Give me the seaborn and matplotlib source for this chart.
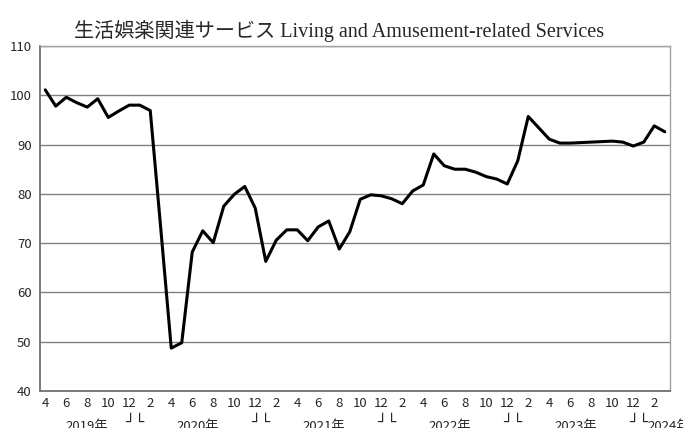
import numpy as np
import pandas as pd
import seaborn as sns
import matplotlib.pyplot as plt
import matplotlib.transforms as mtransforms

# monthly index, Apr 2019 - Mar 2024
months = [4, 5, 6, 7, 8, 9, 10, 11, 12] + list(range(1, 13)) * 4 + [1, 2, 3]
years = [2019] * 9 + [2020] * 12 + [2021] * 12 + [2022] * 12 + [2023] * 12 + [2024] * 3
values = [101.1, 97.8, 99.6, 98.5, 97.6, 99.3, 95.5, 96.8, 98.0,
          98.0, 96.9, 73.0, 48.7, 49.8, 68.2, 72.5, 70.1, 77.5, 79.9, 81.5, 77.1,
          66.3, 70.6, 72.7, 72.7, 70.5, 73.3, 74.5, 68.8, 72.3, 78.9, 79.8, 79.6,
          79.0, 78.0, 80.6, 81.8, 88.1, 85.7, 85.0, 85.0, 84.4, 83.5, 83.0, 82.0,
          86.7, 95.7, 93.4, 91.1, 90.3, 90.3, 90.4, 90.5, 90.6, 90.7, 90.5, 89.7,
          90.5, 93.8, 92.6]
year_labels = ['2019年', '2020年', '2021年', '2022年', '2023年', '2024年']

df = pd.DataFrame({'year': years, 'month': months, 'index': values})
df['t'] = np.arange(len(df))

sns.set_style("white")
plt.rcParams['font.family'] = ['Noto Sans CJK JP', 'DejaVu Sans']

fig = plt.figure(figsize=(6.83, 4.28), dpi=100)
ax = fig.add_axes([40 / 683, 1 - 391 / 428, 630 / 683, 345 / 428])

sns.lineplot(data=df, x='t', y='index', color='black', linewidth=2.2, ax=ax)

ax.set_xlim(-0.5, len(df) - 0.5)
ax.set_ylim(40, 110)
ax.set_yticks(range(40, 111, 10))
ax.set_xticks(df['t'][::2])
ax.set_xticklabels(df['month'][::2])
ax.set_xlabel('')
ax.set_ylabel('')
ax.tick_params(axis='y', labelsize=9.5, length=3, color='#808080', pad=3)
ax.tick_params(axis='x', labelsize=9.5, length=0, pad=4)
ax.grid(axis='y', color='#808080', linewidth=1)
ax.set_axisbelow(True)
for side in ['left', 'bottom']:
    ax.spines[side].set_color('#707070')
    ax.spines[side].set_linewidth(1.3)
for side in ['top', 'right']:
    ax.spines[side].set_color('#a0a0a0')
    ax.spines[side].set_linewidth(1)

# year labels and separators under the month ticks
trans = mtransforms.blended_transform_factory(ax.transData, ax.transAxes)
ypos = -0.085
for i, (yr, lab) in enumerate(zip(sorted(set(years)), year_labels)):
    t = df.loc[df['year'] == yr, 't']
    if yr == 2024:
        ax.text(t.min() + 0.35, ypos, lab, transform=trans, ha='left', va='top',
                fontsize=9.5, clip_on=False)
    else:
        ax.text(t.mean(), ypos, lab, transform=trans, ha='center', va='top',
                fontsize=9.5, clip_on=False)
    if i > 0:
        ax.text(t.min() - 1, -0.07, '┘', transform=trans, ha='center', va='top',
                fontsize=11, fontweight='bold', clip_on=False, family='DejaVu Sans')
        ax.text(t.min(), -0.07, '└', transform=trans, ha='center', va='top',
                fontsize=11, fontweight='bold', clip_on=False, family='DejaVu Sans')

fig.text(0.497, 0.928, '生活娯楽関連サービス Living and Amusement-related Services',
         ha='center', va='center', fontsize=14.5,
         family=['Liberation Serif', 'Noto Sans CJK JP'])

fig.savefig('out.png', dpi=100)
